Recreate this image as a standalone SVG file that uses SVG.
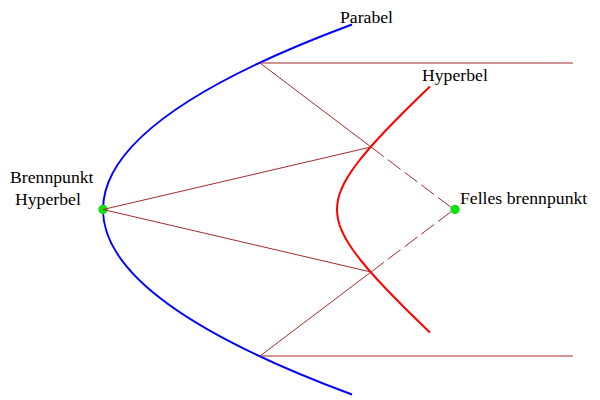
<svg xmlns="http://www.w3.org/2000/svg" width="600" height="400" viewBox="0 0 600 400">
<style>
.lbl{font-family:"Liberation Serif","Times New Roman",serif;font-size:17.7px;fill:#000}
.ray{stroke:#a52a2a;stroke-width:1;fill:none}
.dash{stroke-dasharray:16,5}
.dot{fill:#11e011}
</style>
<rect width="600" height="400" fill="#fff"/>
<g id="parabel">
<path d="M352,24.5 Q-146,209.5 352,394.5" fill="none" stroke="#0000ff" stroke-width="2"/>
<text class="lbl" x="340" y="23">Parabel</text>
</g>
<g id="hyperbel">
<polyline fill="none" stroke="#ff0000" stroke-width="2" stroke-linejoin="round" points="430,86.5 416.5,99.5 406.3,109.5 396.4,119.5 386.7,129.5 377.3,139.5 368.4,149.5 360.1,159.5 356.3,164.5 352.6,169.5 349.3,174.5 346.2,179.5 343.6,184.5 341.3,189.5 339.4,194.5 338.1,199.5 337.3,204.5 337,209.5 337.3,214.5 338.1,219.5 339.4,224.5 341.3,229.5 343.6,234.5 346.2,239.5 349.3,244.5 352.6,249.5 356.3,254.5 360.1,259.5 368.4,269.5 377.3,279.5 386.7,289.5 396.4,299.5 406.3,309.5 416.5,319.5 430,332.5"/>
<text class="lbl" x="422" y="81">Hyperbel</text>
</g>
<g id="brennpunkt-hyperbel">
<circle class="dot" cx="103" cy="209.5" r="4.7"/>
<text class="lbl" x="10" y="183">Brennpunkt</text>
<text class="lbl" x="15" y="205">Hyperbel</text>
</g>
<g id="felles-brennpunkt">
<circle class="dot" cx="455" cy="209.5" r="4.7"/>
<text class="lbl" x="460" y="204">Felles brennpunkt</text>
</g>
<g id="connectors">
<line class="ray" x1="260" y1="63" x2="573" y2="63"/>
<line class="ray" x1="260" y1="356" x2="573" y2="356"/>
<line class="ray" x1="260" y1="63" x2="371" y2="147"/>
<line class="ray" x1="260" y1="356" x2="371" y2="272"/>
<line class="ray dash" x1="371" y1="147" x2="454" y2="209.5"/>
<line class="ray dash" x1="371" y1="272" x2="454" y2="209.5"/>
<line class="ray" x1="103" y1="209.5" x2="371" y2="147"/>
<line class="ray" x1="103" y1="209.5" x2="371" y2="272"/>
</g>
</svg>
